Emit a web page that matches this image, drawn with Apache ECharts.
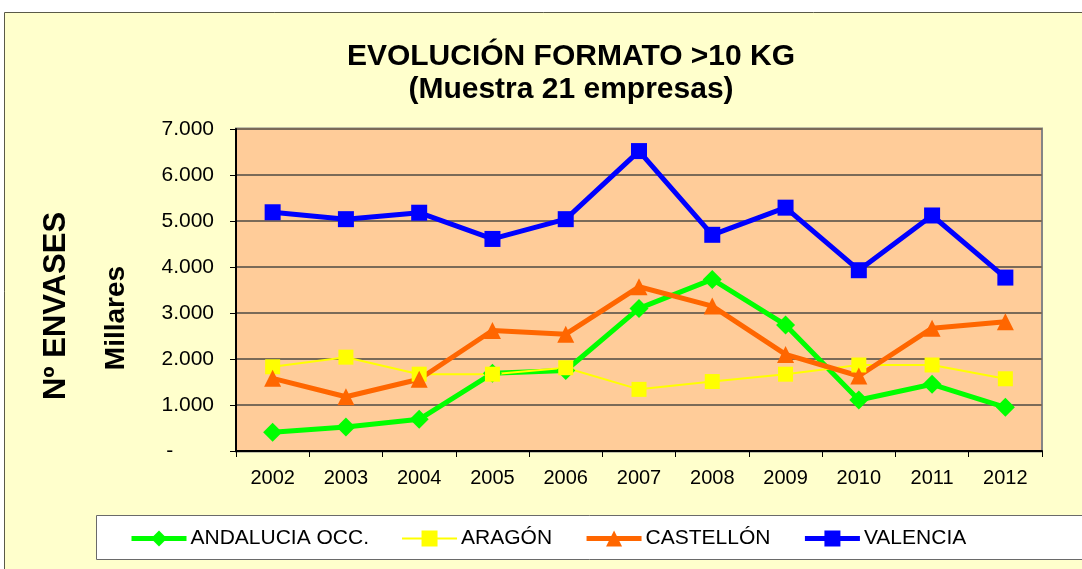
<!DOCTYPE html>
<html>
<head>
<meta charset="utf-8">
<script src="https://cdn.jsdelivr.net/npm/echarts@6/dist/echarts.min.js"></script>
<style>
html,body{margin:0;padding:0;background:#ffffff;}
#chart{width:1082px;height:569px;}
</style>
</head>
<body>
<div id="chart"></div>
<script>
const years = ['2002','2003','2004','2005','2006','2007','2008','2009','2010','2011','2012'];
const andalucia = [410, 520, 690, 1690, 1750, 3100, 3730, 2740, 1110, 1450, 950];
const aragon = [1830, 2040, 1670, 1670, 1810, 1340, 1510, 1670, 1870, 1870, 1570];
const castellon = [1580, 1180, 1560, 2620, 2540, 3570, 3150, 2100, 1630, 2670, 2810];
const valencia = [5190, 5040, 5180, 4610, 5040, 6520, 4700, 5290, 3930, 5120, 3770];
const seriesNames = ['ANDALUCIA OCC.', 'ARAGÓN', 'CASTELLÓN', 'VALENCIA'];
const titleLines = ['EVOLUCIÓN FORMATO >10 KG', '(Muestra 21 empresas)'];
const yTitle = 'Nº ENVASES';
const yUnit = 'Millares';

const FONT = 'Liberation Sans, Arial, sans-serif';
const chart = echarts.init(document.getElementById('chart'));

const styles = [
  {color: '#00FF00', symbol: 'diamond', size: 19, width: 5},
  {color: '#FFFF00', symbol: 'rect', size: 15, width: 2},
  {color: '#FF6600', symbol: 'triangle', size: 17, width: 5},
  {color: '#0000FF', symbol: 'rect', size: 16, width: 5}
];
const dataSets = [andalucia, aragon, castellon, valencia];

const series = seriesNames.map(function (name, i) {
  const s = styles[i];
  return {
    name: name, type: 'line', data: dataSets[i],
    symbol: s.symbol, symbolSize: s.size, showSymbol: true,
    lineStyle: {color: s.color, width: s.width},
    itemStyle: {color: s.color, borderWidth: 0},
    emphasis: {disabled: true}
  };
});

chart.setOption({
  animation: false,
  backgroundColor: '#ffffff',
  graphic: [
    {type: 'rect', z: -10, shape: {x: 4.5, y: 12.5, width: 1100, height: 600},
     style: {fill: '#FFFFCC', stroke: '#5a5a48', lineWidth: 1}},
    {type: 'rect', z: -5, shape: {x: 236, y: 128.5, width: 806, height: 323},
     style: {fill: '#FFCC99', stroke: '#858585', lineWidth: 2}},
    {type: 'rect', z: -5, shape: {x: 96.5, y: 515.5, width: 1000, height: 44},
     style: {fill: '#ffffff', stroke: '#6a6a6a', lineWidth: 1}},
    {type: 'text', x: 571, y: 57, style: {text: titleLines[0], font: 'bold 30px ' + FONT, fill: '#000', textAlign: 'center', textVerticalAlign: 'middle'}},
    {type: 'text', x: 571, y: 90, style: {text: titleLines[1], font: 'bold 30px ' + FONT, fill: '#000', textAlign: 'center', textVerticalAlign: 'middle'}},
    {type: 'text', x: 56, y: 306, rotation: Math.PI / 2, style: {text: yTitle, font: 'bold 31px ' + FONT, fill: '#000', textAlign: 'center', textVerticalAlign: 'middle'}},
    {type: 'text', x: 116, y: 318, rotation: Math.PI / 2, style: {text: yUnit, font: 'bold 28px ' + FONT, fill: '#000', textAlign: 'center', textVerticalAlign: 'middle'}}
  ],
  grid: {left: 236, right: 40, top: 129, bottom: 118, containLabel: false},
  legend: {
    left: 124, top: 523, itemWidth: 55, itemHeight: 20, itemGap: 32,
    textStyle: {fontFamily: FONT, fontSize: 21, color: '#000', padding: [0, 0, 0, -1]},
    data: seriesNames.map(function (n, i) {
      return {name: n, lineStyle: {width: styles[i].width, color: styles[i].color}};
    })
  },
  xAxis: {
    type: 'category', data: years, boundaryGap: true,
    axisLine: {lineStyle: {color: '#000', width: 2}},
    axisTick: {show: true, length: 6, lineStyle: {color: '#000', width: 1}, alignWithLabel: false},
    axisLabel: {fontFamily: FONT, fontSize: 20, color: '#000', margin: 17},
    splitLine: {show: false}
  },
  yAxis: {
    type: 'value', min: 0, max: 7000, interval: 1000,
    axisLine: {show: true, lineStyle: {color: '#000', width: 2}},
    axisTick: {show: true, length: 6, inside: false, lineStyle: {color: '#000', width: 1}},
    axisLabel: {fontFamily: FONT, fontSize: 21, color: '#000', margin: 22,
      formatter: function (v) { return v === 0 ? '-       ' : (v / 1000).toFixed(3); }},
    splitLine: {show: true, lineStyle: {color: '#7a6a58', width: 2}}
  },
  series: series
});
</script>
</body>
</html>
